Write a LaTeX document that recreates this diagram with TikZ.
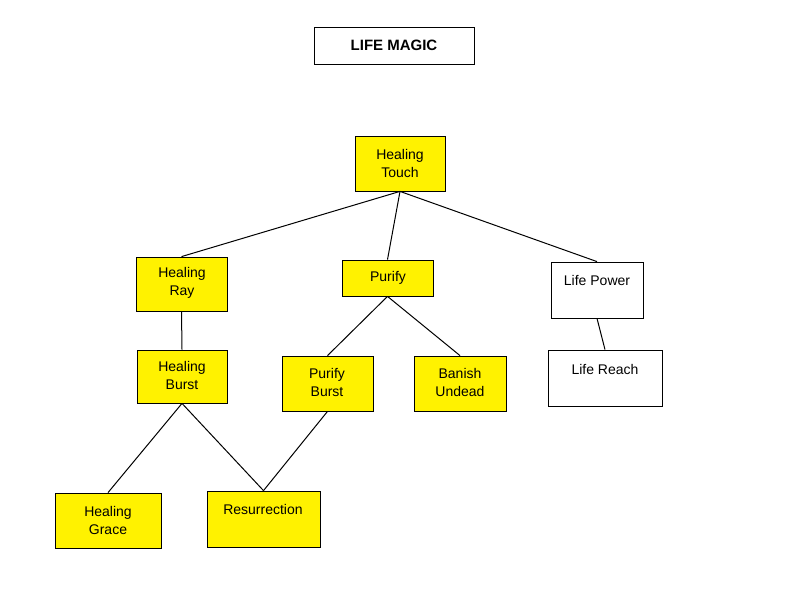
\documentclass[tikz,border=0pt]{standalone}
\usepackage{fontspec}
\setmainfont{Liberation Sans}
\begin{document}
\begin{tikzpicture}[x=1pt,y=-1pt,
  box/.style={draw=black,line width=0.8pt,fill=yellow,inner sep=0pt},
  wbox/.style={box,fill=white},
  txt/.style={align=center,font=\fontsize{14}{18}\selectfont,inner sep=0pt},
  con/.style={line width=1pt}]
\useasboundingbox (0,0) rectangle (800,600);
\newcommand{\bx}[6]{\node[#1,minimum width={#4-#2},minimum height={#5-#3}] (#6) at ({(#2+#4)/2},{(#3+#5)/2}) {};}
\bx{wbox}{314}{27}{474}{64}{title}
\node[txt,font=\fontsize{15}{18}\selectfont\bfseries] (tt) at (title) {LIFE MAGIC};
\bx{box}{355}{136}{445}{191}{ht}
\node[txt] (htt) at (400,163) {Healing\\Touch};
\bx{box}{136}{257}{227}{311}{hr}
\node[txt] (hrt) at (182,283) {Healing\\Ray};
\bx{box}{342}{260}{433}{296}{pu}
\node[txt] (put) at (388,278) {Purify};
\bx{wbox}{551}{262}{643}{318}{lp}
\node[txt] (lpt) at (597,280) {Life Power};
\bx{box}{137}{350}{227}{403}{hb}
\node[txt] (hbt) at (182,375) {Healing\\Burst};
\bx{box}{282}{356}{373}{411}{pb}
\node[txt] (pbt) at (327,382) {Purify\\Burst};
\bx{box}{414}{356}{506}{411}{bu}
\node[txt] (but) at (460,382) {Banish\\Undead};
\bx{wbox}{548}{350}{662}{406}{lr}
\node[txt] (lrt) at (605,369) {Life Reach};
\bx{box}{55}{493}{161}{548}{hg}
\node[txt] (hgt) at (108,520) {Healing\\Grace};
\bx{box}{207}{491}{320}{547}{re}
\node[txt] (ret) at (263,509) {Resurrection};
\draw[con] (ht.south) -- (hr.north);
\draw[con] (ht.south) -- (pu.north);
\draw[con] (ht.south) -- (lp.north);
\draw[con] (hr.south) -- (hb.north);
\draw[con] (pu.south) -- (pb.north);
\draw[con] (pu.south) -- (bu.north);
\draw[con] (lp.south) -- (lr.north);
\draw[con] (hb.south) -- (hg.north);
\draw[con] (hb.south) -- (re.north);
\draw[con] (pb.south) -- (re.north);
\end{tikzpicture}
\end{document}
